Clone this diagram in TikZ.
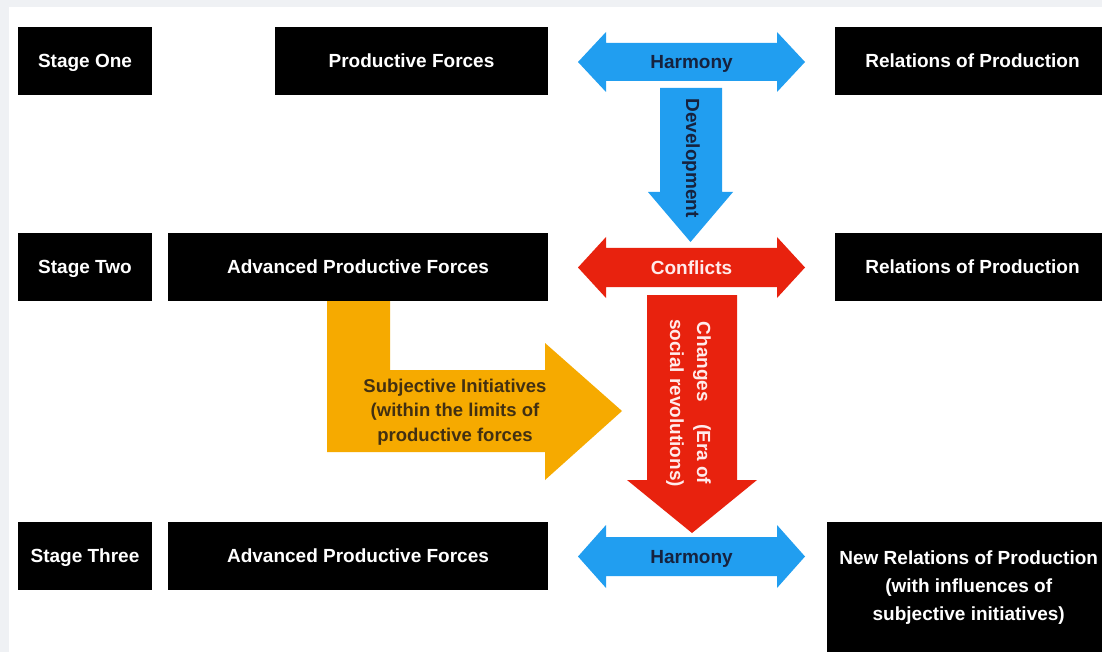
\documentclass[tikz,border=0pt]{standalone}
\usepackage{fontspec}
\setmainfont{Liberation Sans}
\usetikzlibrary{positioning}
\definecolor{pagegrey}{RGB}{239,241,244}
\definecolor{harmblue}{RGB}{33,158,240}
\definecolor{conflred}{RGB}{232,34,14}
\definecolor{subjorange}{RGB}{246,170,0}
\definecolor{navytext}{RGB}{22,34,62}
\definecolor{browntext}{RGB}{66,48,18}
\tikzset{
  stagebox/.style={fill=black, text=white, inner sep=0pt, align=center,
    font=\bfseries\fontsize{19}{28}\selectfont},
  oneline/.style={text height=16pt, text depth=2.3pt},
  stagecell/.style={stagebox, oneline, minimum width=134pt, minimum height=68pt},
  arrowtext/.style={inner sep=0pt, align=center,
    font=\bfseries\fontsize{19}{25}\selectfont}
}

\begin{document}
\begin{tikzpicture}[x=1pt, y=-1pt]
    \useasboundingbox (0,0) rectangle (1102,652);
    \fill[pagegrey] (0,0) rectangle (1102,652);
    \fill[white] (9,7) rectangle (1102,652);

    % stage labels
    \node[stagecell] (s1) at (85,61) {Stage One};
    \node[stagecell] (s2) at (85,267) {Stage Two};
    \node[stagecell] (s3) at (85,556) {Stage Three};

    % productive forces
    \node[stagebox, oneline, minimum width=273pt, minimum height=68pt] (pf1) at (411.5,61) {Productive Forces};
    \node[stagebox, oneline, minimum width=380pt, minimum height=68pt] (pf2) at (358,267) {Advanced Productive Forces};
    \node[stagebox, oneline, minimum width=380pt, minimum height=68pt] (pf3) at (358,556) {Advanced Productive Forces};

    % relations of production
    \node[stagebox, oneline, minimum width=275pt, minimum height=68pt] (rp1) at (972.5,61) {Relations of Production};
    \node[stagebox, oneline, minimum width=275pt, minimum height=68pt] (rp2) at (972.5,267) {Relations of Production};
    \node[stagebox, minimum width=283pt, minimum height=130pt, anchor=north west] (rp3) at (827,522)
      {New Relations of Production\\(with influences of\\subjective initiatives)};

    % double arrows
    \fill[harmblue] (578,62) -- (606,32) -- (606,43) -- (777,43) -- (777,32) -- (805,62)
      -- (777,92) -- (777,81) -- (606,81) -- (606,92) -- cycle;
    \fill[conflred] (578,267.5) -- (606,237) -- (606,248) -- (777,248) -- (777,237) -- (805,267.5)
      -- (777,298) -- (777,287) -- (606,287) -- (606,298) -- cycle;
    \fill[harmblue] (578,556.5) -- (606,525) -- (606,537) -- (777,537) -- (777,525) -- (805,556.5)
      -- (777,588) -- (777,576) -- (606,576) -- (606,588) -- cycle;
    \node[arrowtext, oneline, text=navytext] (harm1) at (691.5,62) {Harmony};
    \node[arrowtext, oneline, text=white!92!red] (confl) at (691.5,267.5) {Conflicts};
    \node[arrowtext, oneline, text=navytext] (harm3) at (691.5,556.5) {Harmony};

    % development
    \fill[harmblue] (660,88) -- (722,88) -- (722,192) -- (733,192) -- (690.5,242)
      -- (648,192) -- (660,192) -- cycle;
    \node[arrowtext, text=navytext, rotate=-90] (devel) at (691,158) {Development};

    % changes
    \fill[conflred] (647,295) -- (737,295) -- (737,480) -- (757,480) -- (692,533)
      -- (627,480) -- (647,480) -- cycle;
    \node[arrowtext, text=white!92!red, rotate=-90, font=\bfseries\fontsize{19}{27}\selectfont]
      (chg) at (688.5,403) {Changes\hspace{22pt}(Era of\\social revolutions)};

    % subjective initiatives
    \fill[subjorange] (327,301) -- (390,301) -- (390,370) -- (545,370) -- (545,343) -- (622,411)
      -- (545,480) -- (545,452) -- (327,452) -- cycle;
    \node[arrowtext, text=browntext, font=\bfseries\fontsize{18.5}{24.5}\selectfont]
      (subj) at (455,412) {Subjective Initiatives\\(within the limits of\\productive forces};
\end{tikzpicture}
\end{document}
